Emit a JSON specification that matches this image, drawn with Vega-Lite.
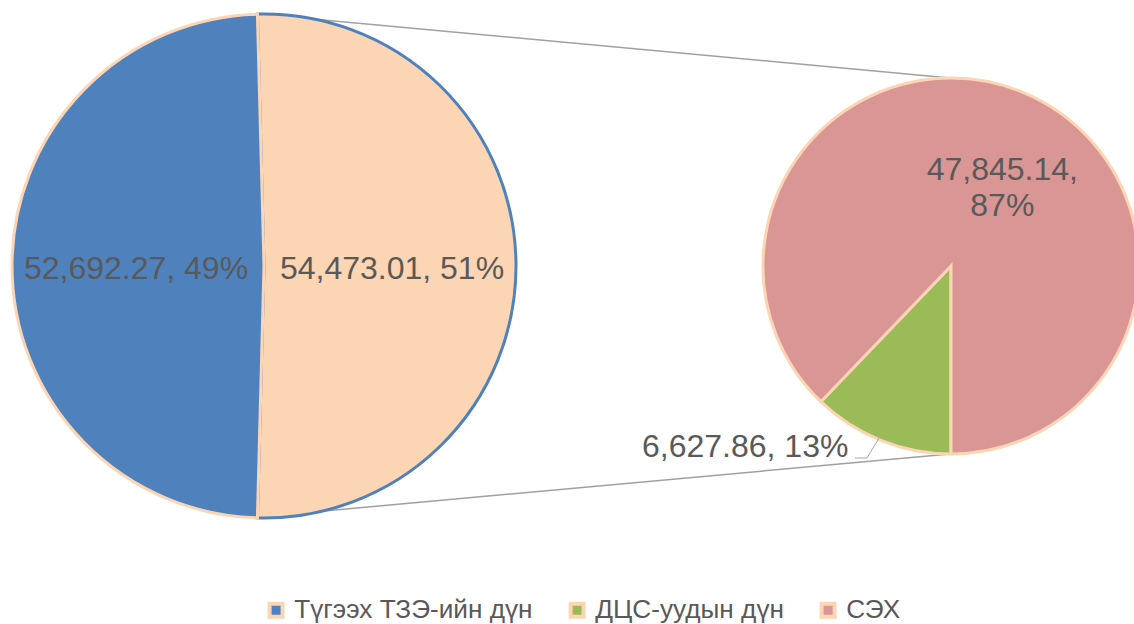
{
  "$schema": "https://vega.github.io/schema/vega-lite/v6.json",
  "width": 1134,
  "height": 624,
  "padding": 0,
  "autosize": {"type": "none"},
  "background": "white",
  "config": {
    "view": {"stroke": null},
    "font": "Liberation Sans",
    "text": {"font": "Liberation Sans", "fontSize": 32, "color": "#595959"}
  },
  "datasets": {
    "slices": [
      {"pie": "main", "category": "Бусад", "value": 54473.01, "label": "54,473.01, 51%", "ord": 1},
      {"pie": "main", "category": "Түгээх ТЗЭ-ийн дүн", "value": 52692.27, "label": "52,692.27, 49%", "ord": 2},
      {"pie": "sub", "category": "ДЦС-уудын дүн", "value": 6627.86, "label": "6,627.86, 13%", "ord": 1},
      {"pie": "sub", "category": "СЭХ", "value": 47845.14, "label": "47,845.14,\n87%", "ord": 2}
    ]
  },
  "resolve": {"scale": {"theta": "independent"}},
  "layer": [
    {
      "data": {"values": [{}]},
      "mark": {"type": "rule", "color": "#A0A0A0", "strokeWidth": 1.5},
      "encoding": {
        "x": {"datum": 258, "type": "quantitative", "scale": {"domain": [0, 1134], "nice": false, "zero": false}, "axis": null},
        "y": {"datum": 14, "type": "quantitative", "scale": {"domain": [0, 624], "reverse": true, "nice": false, "zero": false}, "axis": null},
        "x2": {"datum": 950},
        "y2": {"datum": 78}
      }
    },
    {
      "data": {"values": [{}]},
      "mark": {"type": "rule", "color": "#A0A0A0", "strokeWidth": 1.5},
      "encoding": {
        "x": {"datum": 258, "type": "quantitative", "scale": {"domain": [0, 1134], "nice": false, "zero": false}, "axis": null},
        "y": {"datum": 517, "type": "quantitative", "scale": {"domain": [0, 624], "reverse": true, "nice": false, "zero": false}, "axis": null},
        "x2": {"datum": 950},
        "y2": {"datum": 454}
      }
    },
    {
      "data": {"name": "slices"},
      "transform": [{"filter": "datum.pie === 'main'"}],
      "encoding": {
        "x": {"datum": 264, "type": "quantitative", "scale": {"domain": [0, 1134], "nice": false, "zero": false}, "axis": null},
        "y": {"datum": 266, "type": "quantitative", "scale": {"domain": [0, 624], "reverse": true, "nice": false, "zero": false}, "axis": null},
        "theta": {"field": "value", "type": "quantitative", "stack": true, "scale": {"range": [-0.02609, 6.25709], "nice": false, "zero": true}},
        "order": {"field": "ord", "type": "quantitative"}
      },
      "layer": [
        {
          "mark": {"type": "arc", "outerRadius": 252, "strokeWidth": 3},
          "encoding": {
            "color": {
              "field": "category",
              "type": "nominal",
              "scale": {
                "domain": ["Түгээх ТЗЭ-ийн дүн", "ДЦС-уудын дүн", "СЭХ", "Бусад"],
                "range": ["#4F81BD", "#9BBB59", "#D99694", "#FCD5B5"]
              },
              "legend": {
                "values": ["Түгээх ТЗЭ-ийн дүн", "ДЦС-уудын дүн", "СЭХ"],
                "title": null,
                "orient": "none",
                "legendX": 263,
                "legendY": 597,
                "direction": "horizontal",
                "symbolType": "square",
                "symbolSize": 169,
                "symbolStrokeColor": "#FCD5B5",
                "symbolStrokeWidth": 4,
                "labelFont": "Liberation Sans",
                "labelFontSize": 26.2,
                "labelColor": "#595959",
                "labelLimit": 0,
                "labelOffset": 5,
                "columnPadding": 29
              }
            },
            "stroke": {"condition": {"test": "datum.category === 'Бусад'", "value": "#4F81BD"}, "value": "#FCD5B5"}
          }
        },
        {
          "mark": {"type": "text", "radius": 128, "align": "center", "baseline": "middle", "dy": 3},
          "encoding": {"text": {"field": "label", "type": "nominal"}}
        }
      ]
    },
    {
      "data": {"name": "slices"},
      "transform": [{"filter": "datum.pie === 'sub'"}],
      "encoding": {
        "x": {"datum": 951, "type": "quantitative", "scale": {"domain": [0, 1134], "nice": false, "zero": false}, "axis": null},
        "y": {"datum": 266, "type": "quantitative", "scale": {"domain": [0, 624], "reverse": true, "nice": false, "zero": false}, "axis": null},
        "theta": {"field": "value", "type": "quantitative", "stack": true, "scale": {"range": [3.14159, 9.42478], "nice": false, "zero": true}},
        "order": {"field": "ord", "type": "quantitative"}
      },
      "layer": [
        {
          "mark": {"type": "arc", "outerRadius": 188, "strokeWidth": 3, "stroke": "#FCD5B5"},
          "encoding": {
            "color": {"field": "category", "type": "nominal"}
          }
        },
        {
          "mark": {"type": "text", "radius": 84, "align": "center", "baseline": "middle", "dx": 20, "dy": -18, "lineBreak": "\n", "lineHeight": 36},
          "encoding": {"text": {"condition": {"test": "datum.category === 'СЭХ'", "field": "label", "type": "nominal"}, "value": ""}}
        },
        {
          "mark": {"type": "text", "radius": 200, "align": "right", "baseline": "middle", "dx": -28, "dy": -5},
          "encoding": {"text": {"condition": {"test": "datum.category === 'ДЦС-уудын дүн'", "field": "label", "type": "nominal"}, "value": ""}}
        }
      ]
    },
    {
      "data": {"values": [{}]},
      "mark": {"type": "rule", "color": "#A6A6A6", "strokeWidth": 1},
      "encoding": {
        "x": {"datum": 855, "type": "quantitative", "scale": {"domain": [0, 1134], "nice": false, "zero": false}, "axis": null},
        "y": {"datum": 458, "type": "quantitative", "scale": {"domain": [0, 624], "reverse": true, "nice": false, "zero": false}, "axis": null},
        "x2": {"datum": 867},
        "y2": {"datum": 458}
      }
    },
    {
      "data": {"values": [{}]},
      "mark": {"type": "rule", "color": "#A6A6A6", "strokeWidth": 1},
      "encoding": {
        "x": {"datum": 867, "type": "quantitative", "scale": {"domain": [0, 1134], "nice": false, "zero": false}, "axis": null},
        "y": {"datum": 458, "type": "quantitative", "scale": {"domain": [0, 624], "reverse": true, "nice": false, "zero": false}, "axis": null},
        "x2": {"datum": 879},
        "y2": {"datum": 438}
      }
    }
  ]
}
